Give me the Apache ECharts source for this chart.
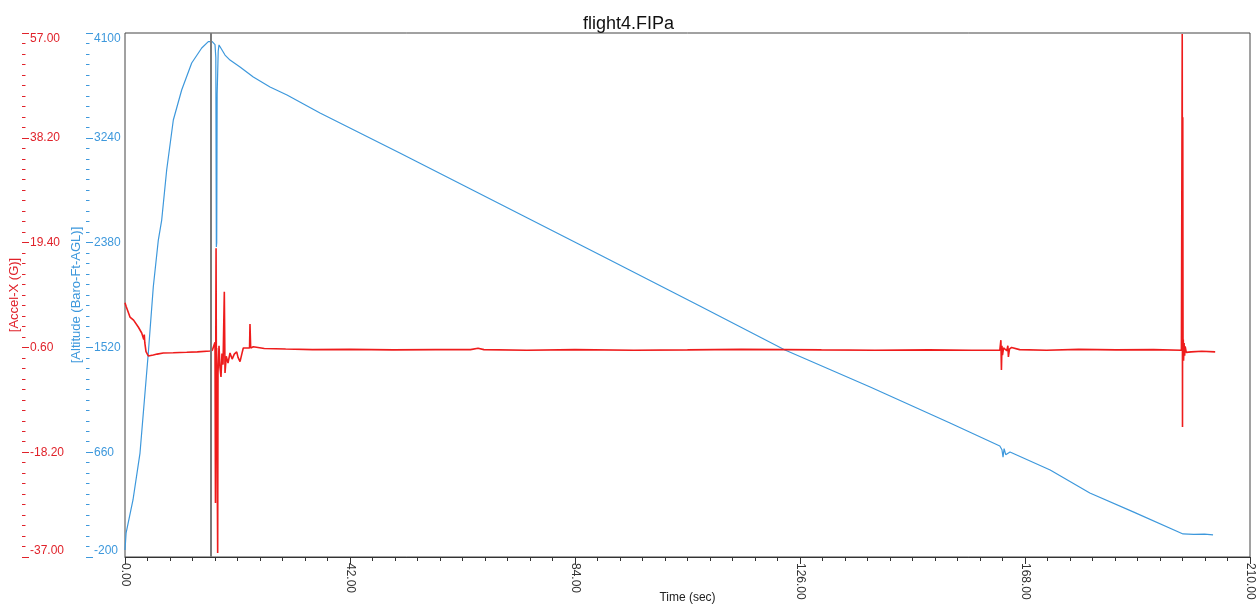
<!DOCTYPE html>
<html>
<head>
<meta charset="utf-8">
<title>flight4.FIPa</title>
<script src="https://cdn.jsdelivr.net/npm/echarts@6/dist/echarts.min.js"></script>
<style>
  html, body { margin: 0; padding: 0; background: #fff; }
  #main { width: 1257px; height: 605px; }
</style>
</head>
<body>
<div id="main"></div>
<script>
// time axis ticks (sec)
const timeTicks = [0, 42, 84, 126, 168, 210]
// left axes ticks
const altTicks = [-200, 660, 1520, 2380, 3240, 4100]
const accTicks = [-37, -18.2, 0.6, 19.4, 38.2, 57]
// cursor position (sec)
const markerTime = 16.05

// Altitude (Baro-Ft-AGL)
const altTime = [0, 0.2, 1.49, 2.8, 4.35, 5.28, 6.22, 6.85, 7.78, 9.02, 10.58, 12.45, 14.32,
  15.55, 16.28, 16.8, 16.95, 17.05, 17.12, 17.2, 17.4, 17.55, 18.67, 19.6, 21.47, 23.95,
  27.07, 30.24, 36.4, 51.3, 70.0, 88.7, 107.3, 123.2, 139.1, 154.0, 163.3, 163.7, 163.9,
  164.1, 164.4, 165.2, 172.7, 180.1, 188.2, 197.5, 199.5, 201.5, 203.1]
const altFeet = [-143, -5, 268, 653, 1474, 2016, 2401, 2565, 2976, 3386, 3632, 3854, 3977,
  4029, 4029, 4005, 3900, 2344, 2380, 3600, 3950, 4002, 3919, 3878, 3821, 3739,
  3657, 3591, 3444, 3115, 2697, 2278, 1860, 1499, 1195, 900, 711, 680, 620,
  690, 640, 662, 514, 325, 170, -11, -15, -12, -19]

// Accel (G)
const accTime = [0, 0.2, 0.93, 1.6, 2.48, 3.12, 3.3, 3.5, 3.6, 3.7, 3.92, 4.35, 4.6, 5.28,
  6.0, 7.15, 9.0, 11.52, 13.5, 15.87, 16.3, 16.8, 16.89, 16.95, 17.0, 17.06, 17.1, 17.3,
  17.36, 17.55, 17.73, 17.92, 18.1, 18.3, 18.54, 18.67, 18.9, 19.23, 19.6, 20.0, 20.4,
  20.85, 21.1, 21.47, 21.8, 22.08, 22.8, 23.25, 23.33, 23.46, 23.95, 26.0, 30.0, 35.0,
  42.0, 50.0, 58.0, 64.5, 65.9, 67.0, 75.0, 84.0, 95.0, 105.0, 115.0, 123.0, 130.0,
  140.0, 150.0, 158.0, 163.3, 163.5, 163.6, 163.7, 163.8, 164.0, 164.6, 164.8, 164.9,
  165.1, 165.5, 167.0, 172.0, 178.0, 185.0, 192.0, 197.2, 197.35, 197.4, 197.45, 197.5,
  197.55, 197.6, 197.7, 197.8, 197.9, 198.1, 199.0, 201.0, 203.5]
const accG = [8.6, 8.0, 6.05, 5.5, 4.26, 3.18, 3.0, 2.0, 2.9, 1.4, -0.17, -0.94, -0.6, -0.76,
  -0.6, -0.4, -0.35, -0.28, -0.2, -0.05, 0.1, 1.5, -27.3, 2.0, 18.4, -6.0, 0.5, -36.3,
  -4.0, 0.9, -3.0, -4.7, -0.5, -2.5, 10.6, -4.0, -1.0, -2.2, -0.4, -1.5, -0.6,
  -0.2, -1.2, -1.96, -0.6, 0.49, 0.5, 0.5, 4.8, 0.5, 0.72, 0.4, 0.3, 0.2,
  0.25, 0.15, 0.2, 0.2, 0.45, 0.2, 0.1, 0.2, 0.1, 0.15, 0.25, 0.2, 0.15,
  0.1, 0.15, 0.1, 0.1, 1.9, -3.45, 0.9, -0.8, 0.5, 0.0, 0.9, -1.1,
  0.3, 0.6, 0.2, 0.1, 0.25, 0.15, 0.2, 0.1, 56.8, -13.7, 41.9, -1.5,
  2.0, -1.8, 1.4, -0.9, 0.8, -0.3, -0.2, -0.1, -0.2]

const blue = '#3d98dc'
const red = '#e0222a'

function pairs (xs, ys) {
  return xs.map(function (x, i) { return [x, ys[i]] })
}

function leftAxis (ticks, color, offset, name, nameGap, digits) {
  return {
    type: 'value',
    position: 'left',
    offset: offset,
    min: ticks[0],
    max: ticks[ticks.length - 1],
    interval: ticks[1] - ticks[0],
    axisLine: { show: false, onZero: false },
    axisTick: { show: true, inside: true, length: 7, lineStyle: { color: color } },
    minorTick: { show: true, splitNumber: 10, length: 3.5, lineStyle: { color: color } },
    splitLine: { show: false },
    axisLabel: {
      inside: true,
      margin: 8,
      color: color,
      fontSize: 12,
      verticalAlignMinLabel: 'bottom',
      verticalAlignMaxLabel: 'top',
      formatter: function (v) { return v.toFixed(digits) }
    },
    name: name,
    nameLocation: 'middle',
    nameRotate: 90,
    nameGap: nameGap,
    nameMoveOverlap: false,
    nameTextStyle: { color: color, fontSize: 13 }
  }
}

const chart = echarts.init(document.getElementById('main'), null, { renderer: 'canvas' })

const option = {
  animation: false,
  backgroundColor: '#fff',
  textStyle: { fontFamily: 'Liberation Sans, Arial, sans-serif' },
  title: {
    text: 'flight4.FIPa',
    left: 'center',
    top: 10,
    textStyle: { fontSize: 18, fontWeight: 'normal', color: '#111' }
  },
  grid: {
    left: 125,
    right: 7,
    top: 33,
    bottom: 48,
    outerBoundsMode: 'none',
    containLabel: false,
    show: true,
    borderColor: '#444',
    borderWidth: 1
  },
  xAxis: {
    type: 'value',
    min: timeTicks[0],
    max: timeTicks[timeTicks.length - 1],
    interval: timeTicks[1] - timeTicks[0],
    axisLine: { onZero: false, lineStyle: { color: '#333' } },
    axisTick: { length: 7, lineStyle: { color: '#333' } },
    minorTick: { show: true, splitNumber: 10, length: 4, lineStyle: { color: '#333' } },
    splitLine: { show: false },
    axisLabel: {
      rotate: -90,
      margin: 6,
      color: '#333',
      fontSize: 12,
      formatter: function (v) { return v.toFixed(2) }
    },
    name: 'Time (sec)',
    nameLocation: 'middle',
    nameGap: 35,
    nameMoveOverlap: false,
    nameTextStyle: { color: '#222', fontSize: 12 }
  },
  yAxis: [
    leftAxis(altTicks, blue, 39, '[Altitude (Baro-Ft-AGL)]', 3, 0),
    leftAxis(accTicks, red, 103, '[Accel-X (G)]', 1, 2)
  ],
  series: [
    {
      name: 'Altitude',
      type: 'line',
      yAxisIndex: 0,
      data: pairs(altTime, altFeet),
      showSymbol: false,
      symbol: 'none',
      lineStyle: { color: blue, width: 1.2 },
      markLine: {
        silent: true,
        symbol: 'none',
        label: { show: false },
        lineStyle: { color: '#7a7a7a', width: 2, type: 'solid' },
        data: [{ xAxis: markerTime }]
      }
    },
    {
      name: 'Accel',
      type: 'line',
      yAxisIndex: 1,
      data: pairs(accTime, accG),
      showSymbol: false,
      symbol: 'none',
      lineStyle: { color: '#ee1c1c', width: 1.6 }
    }
  ]
}
option && chart.setOption(option)
</script>
</body>
</html>
